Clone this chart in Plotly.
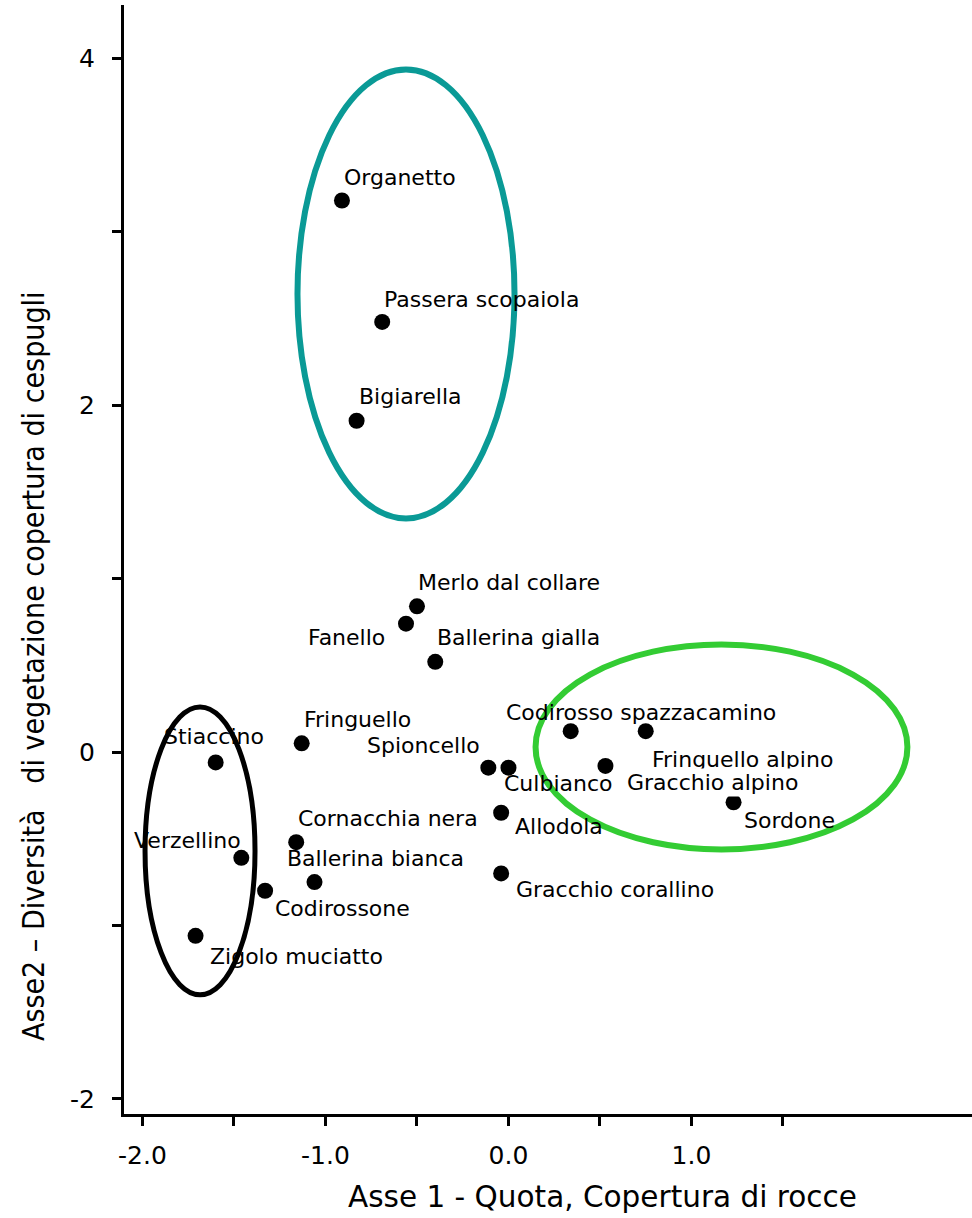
import plotly.graph_objects as go

# Species scores on the first two ordination axes
species = [
    "Organetto", "Passera scopaiola", "Bigiarella",
    "Merlo dal collare", "Fanello", "Ballerina gialla",
    "Fringuello", "Stiaccino", "Verzellino", "Cornacchia nera",
    "Ballerina bianca", "Codirossone", "Zigolo muciatto",
    "Spioncello", "Culbianco", "Allodola", "Gracchio corallino",
    "Codirosso spazzacamino", "Fringuello alpino", "Gracchio alpino", "Sordone",
]
asse1 = [
    -0.91, -0.69, -0.83,
    -0.50, -0.56, -0.40,
    -1.13, -1.60, -1.46, -1.16,
    -1.06, -1.33, -1.71,
    -0.11, 0.00, -0.04, -0.04,
    0.34, 0.75, 0.53, 1.23,
]
asse2 = [
    3.18, 2.48, 1.91,
    0.84, 0.74, 0.52,
    0.05, -0.06, -0.61, -0.52,
    -0.75, -0.80, -1.06,
    -0.09, -0.09, -0.35, -0.70,
    0.12, 0.12, -0.08, -0.29,
]

# Label placement: (anchor, x shift px, y shift px)
label_place = {
    "Organetto": ("left", 0, 23),
    "Passera scopaiola": ("left", 0, 22),
    "Bigiarella": ("left", 0, 24),
    "Merlo dal collare": ("left", -1, 24),
    "Fanello": ("right", -19, -14),
    "Ballerina gialla": ("left", 0, 24),
    "Fringuello": ("left", 0, 24),
    "Stiaccino": ("left", -54, 26),
    "Verzellino": ("right", 2, 17),
    "Cornacchia nera": ("left", 0, 24),
    "Ballerina bianca": ("left", -30, 24),
    "Codirossone": ("left", 8, -18),
    "Zigolo muciatto": ("left", 12, -21),
    "Spioncello": ("right", -6, 22),
    "Culbianco": ("left", -6, -16),
    "Allodola": ("left", 12, -14),
    "Gracchio corallino": ("left", 13, -16),
    "Codirosso spazzacamino": ("left", -67, 19),
    "Fringuello alpino": ("left", 4, -28),
    "Gracchio alpino": ("left", 20, -17),
    "Sordone": ("left", 8, -18),
}

# Group envelopes: (x0, x1, y0, y1, colour, line width)
groups = [
    (-1.153, 0.033, 1.347, 3.935, "#0A9A96", 6),
    (0.148, 2.180, -0.562, 0.620, "#33CC33", 6),
    (-1.986, -1.385, -1.400, 0.260, "#000000", 5),
]

x_ticks = [-2.0, -1.5, -1.0, -0.5, 0.0, 0.5, 1.0, 1.5]
x_ticktext = ["-2.0", "", "-1.0", "", "0.0", "", "1.0", ""]
y_ticks = [-2, -1, 0, 1, 2, 3, 4]
y_ticktext = ["-2", "", "0", "", "2", "", "4"]

FONT = "DejaVu Sans, Liberation Sans, Arial, sans-serif"

fig = go.Figure()
fig.add_trace(go.Scatter(
    x=asse1, y=asse2, mode="markers",
    marker=dict(color="black", size=16, line=dict(width=0)),
    hoverinfo="text", text=species, showlegend=False,
))

for x0, x1, y0, y1, col, w in groups:
    fig.add_shape(type="circle", xref="x", yref="y",
                  x0=x0, x1=x1, y0=y0, y1=y1,
                  line=dict(color=col, width=w), layer="above")

for name, xv, yv in zip(species, asse1, asse2):
    anchor, dx, dy = label_place[name]
    fig.add_annotation(
        x=xv, y=yv, xref="x", yref="y", text=name, showarrow=False,
        xanchor=anchor, yanchor="middle", xshift=dx, yshift=dy,
        font=dict(family=FONT, size=22, color="black"),
        bgcolor="white" if name == "Gracchio alpino" else None,
        borderpad=1,
    )

fig.add_annotation(
    xref="paper", yref="paper", x=0.564, y=-0.075,
    text="Asse 1 - Quota, Copertura di rocce", showarrow=False,
    xanchor="center", yanchor="middle",
    font=dict(family=FONT, size=29.5, color="black"),
)
fig.add_annotation(
    xref="paper", yref="paper", x=-0.106, y=0.404,
    text="Asse2 \u2013 Diversit\u00e0\u00a0\u00a0\u00a0di vegetazione copertura di cespugli",
    textangle=-90, showarrow=False, xanchor="center", yanchor="middle",
    font=dict(family="DejaVu Sans Condensed, Liberation Sans Narrow, DejaVu Sans, sans-serif",
              size=30, color="black"),
)

fig.update_layout(
    width=972, height=1218,
    margin=dict(l=124, r=0, t=5, b=104),
    paper_bgcolor="white", plot_bgcolor="white",
    font=dict(family=FONT, color="black"),
    xaxis=dict(
        range=[-2.101, 2.533], showgrid=False, zeroline=False,
        showline=True, linecolor="black", linewidth=3,
        ticks="outside", ticklen=9, tickwidth=3, tickcolor="black",
        tickvals=x_ticks, ticktext=x_ticktext,
        tickfont=dict(family=FONT, size=25, color="black"),
        ticklabelstandoff=8,
    ),
    yaxis=dict(
        range=[-2.087, 4.307], showgrid=False, zeroline=False,
        showline=True, linecolor="black", linewidth=3,
        ticks="outside", ticklen=9, tickwidth=3, tickcolor="black",
        tickvals=y_ticks, ticktext=y_ticktext,
        tickfont=dict(family=FONT, size=25, color="black"),
        ticklabelstandoff=12,
    ),
)

fig.write_html("out.html")
